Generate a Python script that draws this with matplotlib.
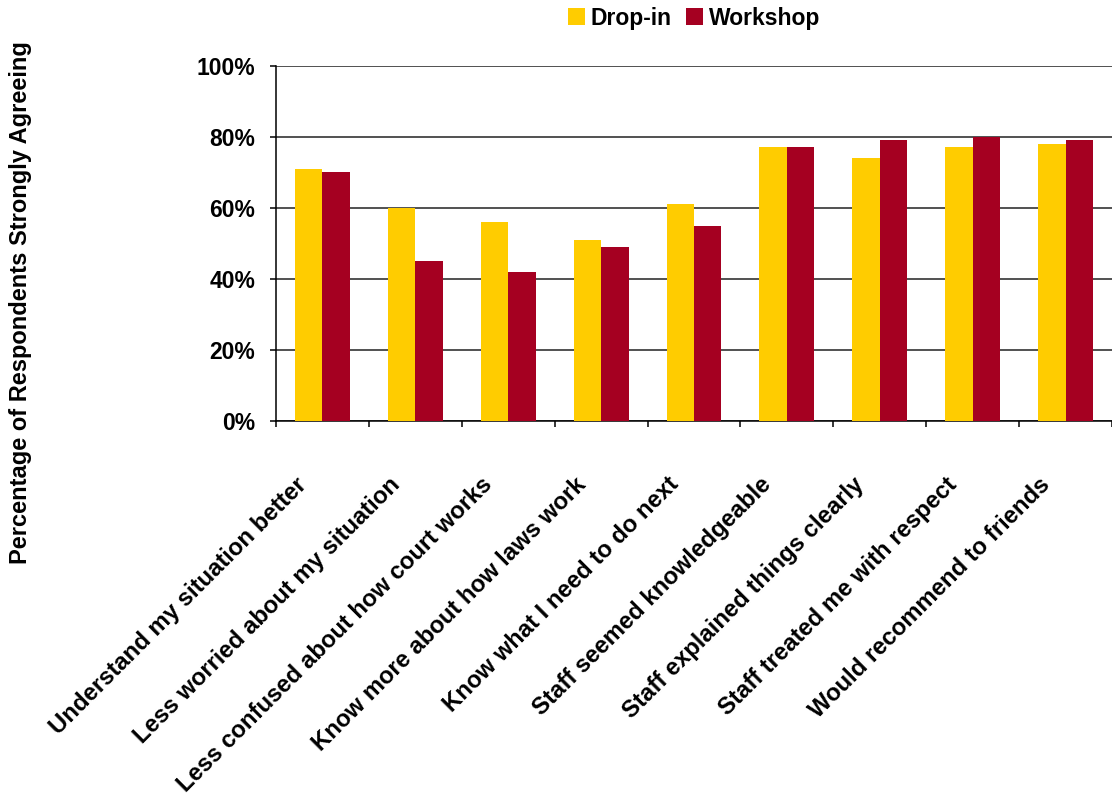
import matplotlib.pyplot as plt
import matplotlib.transforms as mtransforms
import numpy as np
from matplotlib.ticker import FixedLocator, PercentFormatter

categories = [
    "Understand my situation better",
    "Less worried about my situation",
    "Less confused about how court works",
    "Know more about how laws work",
    "Know what I need to do next",
    "Staff seemed knowledgeable",
    "Staff explained things clearly",
    "Staff treated me with respect",
    "Would recommend to friends",
]
drop_in = [71, 60, 56, 51, 61, 77, 74, 77, 78]
workshop = [70, 45, 42, 49, 55, 77, 79, 80, 79]

plt.rcParams['font.family'] = ['Liberation Sans', 'DejaVu Sans']
plt.rcParams['font.weight'] = 'bold'

fig = plt.figure(figsize=(11.12, 8.02), dpi=100)
ax = fig.add_axes([0.2482, 0.475, 0.7518, 0.443])

x = np.arange(len(categories))
w = 0.296
ax.bar(x - w / 2, drop_in, w, color='#FFCC00', label='Drop-in', zorder=3)
ax.bar(x + w / 2, workshop, w, color='#A50021', label='Workshop', zorder=3)

ax.set_xlim(-0.5, len(categories) - 0.5)
ax.set_ylim(0, 100)
ax.set_yticks(range(0, 101, 20))
ax.yaxis.set_major_formatter(PercentFormatter(decimals=0))
ax.grid(axis='y', color='#222222', linewidth=1.1, zorder=0)

# category boundaries get the tick marks, labels are placed by hand
ax.set_xticks([])
ax.xaxis.set_minor_locator(FixedLocator(np.arange(-0.5, len(categories), 1)))
ax.tick_params(axis='x', which='minor', length=4.5, width=1.1, direction='out')
ax.tick_params(axis='y', length=4.5, width=1.1, pad=10.5, labelsize=16.5)
for lbl in ax.get_yticklabels():
    lbl.set_fontweight('bold')

shift = mtransforms.ScaledTranslation(-0.19, -0.60, fig.dpi_scale_trans)
trans = ax.get_xaxis_transform() + shift
for xi, cat in zip(x, categories):
    ax.text(xi, 0, cat, transform=trans, rotation=45, ha='right', va='center',
            rotation_mode='anchor', fontsize=17.2, fontweight='bold')

for s in ['top', 'right']:
    ax.spines[s].set_visible(False)
ax.spines['left'].set_linewidth(1.1)
ax.spines['bottom'].set_linewidth(1.1)

fig.text(0.018, 0.623, 'Percentage of Respondents Strongly Agreeing',
         rotation=90, ha='center', va='center', fontsize=17, fontweight='bold')

ax.legend(loc='center', bbox_to_anchor=(0.5, 1.134), ncol=2, frameon=False,
          fontsize=16.5, handlelength=0.75, handleheight=0.75, handletextpad=0.25,
          columnspacing=0.6, borderaxespad=0)

fig.savefig('out.png', dpi=100)
